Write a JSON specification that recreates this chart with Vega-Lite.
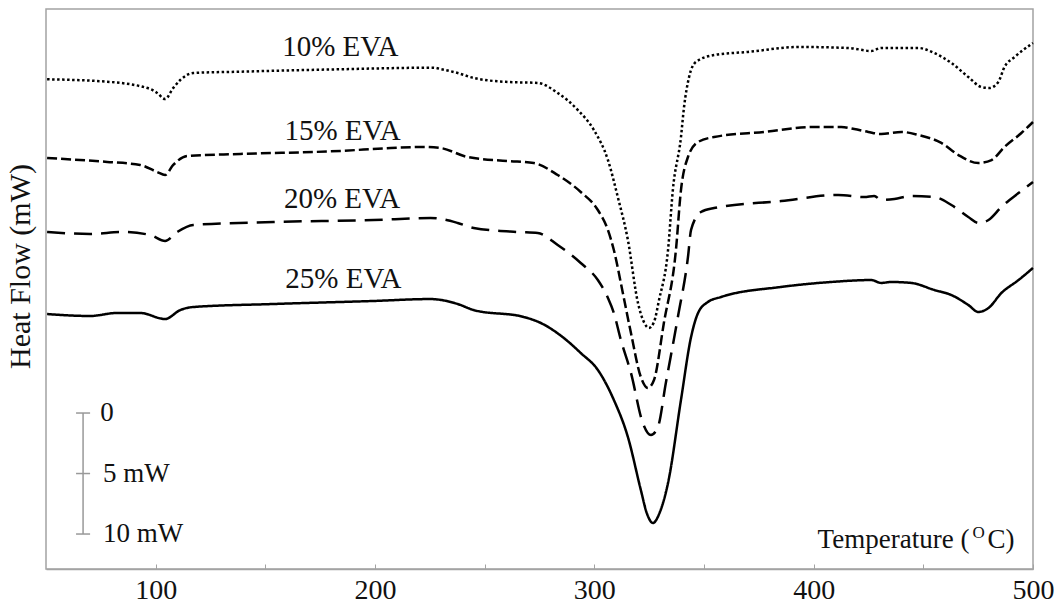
{
  "$schema": "https://vega.github.io/schema/vega-lite/v6.json",
  "width": 987,
  "height": 560,
  "autosize": {"type": "none"},
  "padding": {"left": 46, "top": 9, "right": 21, "bottom": 37},
  "background": "white",
  "config": {
    "font": "Liberation Serif",
    "view": {"stroke": "#a3a3a3", "strokeWidth": 1.5},
    "text": {"font": "Liberation Serif", "color": "#111111"}
  },
  "datasets": {
    "curves": [
      {"s": "10% EVA", "t": 50.5, "v": 40.47},
      {"s": "10% EVA", "t": 77.9, "v": 40.27},
      {"s": "10% EVA", "t": 97.5, "v": 39.67},
      {"s": "10% EVA", "t": 100.7, "v": 39.34},
      {"s": "10% EVA", "t": 104.3, "v": 38.84},
      {"s": "10% EVA", "t": 108.0, "v": 39.75},
      {"s": "10% EVA", "t": 111.2, "v": 40.41},
      {"s": "10% EVA", "t": 117.1, "v": 40.99},
      {"s": "10% EVA", "t": 138.6, "v": 41.10},
      {"s": "10% EVA", "t": 184.2, "v": 41.30},
      {"s": "10% EVA", "t": 226.7, "v": 41.43},
      {"s": "10% EVA", "t": 229.9, "v": 41.32},
      {"s": "10% EVA", "t": 237.7, "v": 40.99},
      {"s": "10% EVA", "t": 245.0, "v": 40.58},
      {"s": "10% EVA", "t": 260.5, "v": 40.25},
      {"s": "10% EVA", "t": 274.2, "v": 40.17},
      {"s": "10% EVA", "t": 283.3, "v": 39.34},
      {"s": "10% EVA", "t": 292.5, "v": 37.93},
      {"s": "10% EVA", "t": 299.8, "v": 36.28},
      {"s": "10% EVA", "t": 306.2, "v": 33.80},
      {"s": "10% EVA", "t": 310.7, "v": 30.74},
      {"s": "10% EVA", "t": 315.3, "v": 27.19},
      {"s": "10% EVA", "t": 319.9, "v": 21.98},
      {"s": "10% EVA", "t": 322.6, "v": 20.41},
      {"s": "10% EVA", "t": 324.9, "v": 19.92},
      {"s": "10% EVA", "t": 327.2, "v": 20.41},
      {"s": "10% EVA", "t": 329.5, "v": 22.23},
      {"s": "10% EVA", "t": 333.6, "v": 26.36},
      {"s": "10% EVA", "t": 335.8, "v": 31.32},
      {"s": "10% EVA", "t": 339.5, "v": 35.70},
      {"s": "10% EVA", "t": 340.9, "v": 38.18},
      {"s": "10% EVA", "t": 343.2, "v": 40.66},
      {"s": "10% EVA", "t": 346.3, "v": 41.90},
      {"s": "10% EVA", "t": 354.6, "v": 42.48},
      {"s": "10% EVA", "t": 370.1, "v": 42.73},
      {"s": "10% EVA", "t": 392.9, "v": 43.14},
      {"s": "10% EVA", "t": 415.8, "v": 43.06},
      {"s": "10% EVA", "t": 426.3, "v": 42.81},
      {"s": "10% EVA", "t": 430.8, "v": 43.06},
      {"s": "10% EVA", "t": 440.0, "v": 43.06},
      {"s": "10% EVA", "t": 447.7, "v": 43.06},
      {"s": "10% EVA", "t": 455.0, "v": 42.64},
      {"s": "10% EVA", "t": 462.8, "v": 41.82},
      {"s": "10% EVA", "t": 470.5, "v": 40.66},
      {"s": "10% EVA", "t": 476.5, "v": 39.83},
      {"s": "10% EVA", "t": 480.1, "v": 39.75},
      {"s": "10% EVA", "t": 484.2, "v": 40.25},
      {"s": "10% EVA", "t": 487.0, "v": 41.49},
      {"s": "10% EVA", "t": 491.6, "v": 42.31},
      {"s": "10% EVA", "t": 500.0, "v": 43.47},

      {"s": "15% EVA", "t": 50.5, "v": 33.97},
      {"s": "15% EVA", "t": 77.9, "v": 33.64},
      {"s": "15% EVA", "t": 92.9, "v": 33.39},
      {"s": "15% EVA", "t": 100.7, "v": 32.81},
      {"s": "15% EVA", "t": 104.3, "v": 32.56},
      {"s": "15% EVA", "t": 108.0, "v": 33.39},
      {"s": "15% EVA", "t": 114.4, "v": 34.13},
      {"s": "15% EVA", "t": 138.6, "v": 34.30},
      {"s": "15% EVA", "t": 184.2, "v": 34.55},
      {"s": "15% EVA", "t": 207.1, "v": 34.79},
      {"s": "15% EVA", "t": 222.1, "v": 34.88},
      {"s": "15% EVA", "t": 229.9, "v": 34.79},
      {"s": "15% EVA", "t": 242.2, "v": 34.05},
      {"s": "15% EVA", "t": 260.5, "v": 33.72},
      {"s": "15% EVA", "t": 272.4, "v": 33.55},
      {"s": "15% EVA", "t": 283.3, "v": 32.56},
      {"s": "15% EVA", "t": 293.8, "v": 31.16},
      {"s": "15% EVA", "t": 301.6, "v": 29.67},
      {"s": "15% EVA", "t": 306.2, "v": 28.02},
      {"s": "15% EVA", "t": 308.9, "v": 26.36},
      {"s": "15% EVA", "t": 313.0, "v": 22.81},
      {"s": "15% EVA", "t": 316.7, "v": 19.50},
      {"s": "15% EVA", "t": 321.2, "v": 15.87},
      {"s": "15% EVA", "t": 324.4, "v": 14.96},
      {"s": "15% EVA", "t": 327.2, "v": 15.62},
      {"s": "15% EVA", "t": 331.7, "v": 20.33},
      {"s": "15% EVA", "t": 337.2, "v": 26.36},
      {"s": "15% EVA", "t": 339.5, "v": 31.32},
      {"s": "15% EVA", "t": 342.7, "v": 34.05},
      {"s": "15% EVA", "t": 347.3, "v": 35.29},
      {"s": "15% EVA", "t": 354.6, "v": 35.70},
      {"s": "15% EVA", "t": 377.4, "v": 36.12},
      {"s": "15% EVA", "t": 400.2, "v": 36.53},
      {"s": "15% EVA", "t": 412.6, "v": 36.53},
      {"s": "15% EVA", "t": 418.5, "v": 36.36},
      {"s": "15% EVA", "t": 424.9, "v": 36.12},
      {"s": "15% EVA", "t": 430.8, "v": 35.95},
      {"s": "15% EVA", "t": 440.0, "v": 36.12},
      {"s": "15% EVA", "t": 447.7, "v": 35.87},
      {"s": "15% EVA", "t": 458.2, "v": 35.21},
      {"s": "15% EVA", "t": 466.0, "v": 34.21},
      {"s": "15% EVA", "t": 475.1, "v": 33.55},
      {"s": "15% EVA", "t": 481.1, "v": 33.80},
      {"s": "15% EVA", "t": 487.0, "v": 34.88},
      {"s": "15% EVA", "t": 494.7, "v": 36.03},
      {"s": "15% EVA", "t": 500.0, "v": 36.94},

      {"s": "20% EVA", "t": 50.5, "v": 27.85},
      {"s": "20% EVA", "t": 70.1, "v": 27.69},
      {"s": "20% EVA", "t": 85.2, "v": 27.85},
      {"s": "20% EVA", "t": 97.5, "v": 27.60},
      {"s": "20% EVA", "t": 104.3, "v": 27.11},
      {"s": "20% EVA", "t": 109.8, "v": 27.85},
      {"s": "20% EVA", "t": 117.1, "v": 28.43},
      {"s": "20% EVA", "t": 153.7, "v": 28.68},
      {"s": "20% EVA", "t": 199.3, "v": 28.84},
      {"s": "20% EVA", "t": 225.3, "v": 29.01},
      {"s": "20% EVA", "t": 237.7, "v": 28.60},
      {"s": "20% EVA", "t": 245.0, "v": 28.18},
      {"s": "20% EVA", "t": 265.1, "v": 27.85},
      {"s": "20% EVA", "t": 274.2, "v": 27.77},
      {"s": "20% EVA", "t": 283.3, "v": 26.78},
      {"s": "20% EVA", "t": 293.8, "v": 25.29},
      {"s": "20% EVA", "t": 301.6, "v": 23.88},
      {"s": "20% EVA", "t": 306.2, "v": 22.40},
      {"s": "20% EVA", "t": 308.9, "v": 21.16},
      {"s": "20% EVA", "t": 312.1, "v": 18.93},
      {"s": "20% EVA", "t": 316.7, "v": 16.20},
      {"s": "20% EVA", "t": 322.1, "v": 12.07},
      {"s": "20% EVA", "t": 325.8, "v": 11.07},
      {"s": "20% EVA", "t": 329.0, "v": 11.74},
      {"s": "20% EVA", "t": 332.6, "v": 15.37},
      {"s": "20% EVA", "t": 338.1, "v": 20.83},
      {"s": "20% EVA", "t": 342.7, "v": 25.79},
      {"s": "20% EVA", "t": 344.1, "v": 28.02},
      {"s": "20% EVA", "t": 348.6, "v": 29.50},
      {"s": "20% EVA", "t": 354.6, "v": 29.83},
      {"s": "20% EVA", "t": 385.2, "v": 30.41},
      {"s": "20% EVA", "t": 411.2, "v": 30.91},
      {"s": "20% EVA", "t": 423.1, "v": 30.74},
      {"s": "20% EVA", "t": 427.6, "v": 30.83},
      {"s": "20% EVA", "t": 430.8, "v": 30.50},
      {"s": "20% EVA", "t": 436.8, "v": 30.58},
      {"s": "20% EVA", "t": 444.5, "v": 30.83},
      {"s": "20% EVA", "t": 455.0, "v": 30.74},
      {"s": "20% EVA", "t": 462.8, "v": 30.08},
      {"s": "20% EVA", "t": 470.5, "v": 29.09},
      {"s": "20% EVA", "t": 475.1, "v": 28.60},
      {"s": "20% EVA", "t": 479.7, "v": 28.84},
      {"s": "20% EVA", "t": 485.6, "v": 29.92},
      {"s": "20% EVA", "t": 493.4, "v": 31.07},
      {"s": "20% EVA", "t": 500.0, "v": 31.98},

      {"s": "25% EVA", "t": 50.5, "v": 21.07},
      {"s": "25% EVA", "t": 70.1, "v": 20.91},
      {"s": "25% EVA", "t": 82.4, "v": 21.16},
      {"s": "25% EVA", "t": 92.9, "v": 21.16},
      {"s": "25% EVA", "t": 104.3, "v": 20.66},
      {"s": "25% EVA", "t": 111.2, "v": 21.40},
      {"s": "25% EVA", "t": 117.1, "v": 21.65},
      {"s": "25% EVA", "t": 153.7, "v": 21.90},
      {"s": "25% EVA", "t": 199.3, "v": 22.15},
      {"s": "25% EVA", "t": 225.3, "v": 22.31},
      {"s": "25% EVA", "t": 237.7, "v": 21.90},
      {"s": "25% EVA", "t": 245.0, "v": 21.40},
      {"s": "25% EVA", "t": 267.8, "v": 20.83},
      {"s": "25% EVA", "t": 275.6, "v": 20.33},
      {"s": "25% EVA", "t": 286.1, "v": 19.09},
      {"s": "25% EVA", "t": 293.8, "v": 17.85},
      {"s": "25% EVA", "t": 301.6, "v": 16.45},
      {"s": "25% EVA", "t": 308.9, "v": 13.97},
      {"s": "25% EVA", "t": 315.3, "v": 10.91},
      {"s": "25% EVA", "t": 321.2, "v": 6.53},
      {"s": "25% EVA", "t": 323.9, "v": 4.63},
      {"s": "25% EVA", "t": 326.7, "v": 3.80},
      {"s": "25% EVA", "t": 329.9, "v": 4.71},
      {"s": "25% EVA", "t": 333.6, "v": 7.11},
      {"s": "25% EVA", "t": 339.5, "v": 13.97},
      {"s": "25% EVA", "t": 344.1, "v": 19.17},
      {"s": "25% EVA", "t": 347.3, "v": 21.16},
      {"s": "25% EVA", "t": 351.8, "v": 22.07},
      {"s": "25% EVA", "t": 357.8, "v": 22.48},
      {"s": "25% EVA", "t": 385.2, "v": 23.31},
      {"s": "25% EVA", "t": 408.0, "v": 23.72},
      {"s": "25% EVA", "t": 426.3, "v": 23.88},
      {"s": "25% EVA", "t": 430.8, "v": 23.64},
      {"s": "25% EVA", "t": 435.4, "v": 23.72},
      {"s": "25% EVA", "t": 444.5, "v": 23.64},
      {"s": "25% EVA", "t": 455.0, "v": 23.06},
      {"s": "25% EVA", "t": 462.8, "v": 22.64},
      {"s": "25% EVA", "t": 470.5, "v": 21.82},
      {"s": "25% EVA", "t": 475.1, "v": 21.24},
      {"s": "25% EVA", "t": 479.7, "v": 21.57},
      {"s": "25% EVA", "t": 485.6, "v": 22.81},
      {"s": "25% EVA", "t": 493.4, "v": 23.88},
      {"s": "25% EVA", "t": 500.0, "v": 24.88}
    ],
    "labels": [
      {"label": "10% EVA", "t": 184.2, "v": 42.40},
      {"label": "15% EVA", "t": 185.2, "v": 35.45},
      {"label": "20% EVA", "t": 185.0, "v": 29.83},
      {"label": "25% EVA", "t": 185.6, "v": 23.22}
    ],
    "bar": [
      {"t": 66.9, "v": 12.89, "v2": 2.89}
    ],
    "barticks": [
      {"t": 63.7, "t2": 70.1, "v": 12.89},
      {"t": 63.7, "t2": 70.1, "v": 7.89},
      {"t": 63.7, "t2": 70.1, "v": 2.89}
    ],
    "barlabels": [
      {"label": "0", "t": 74.7, "v": 12.89},
      {"label": "5 mW", "t": 76.0, "v": 7.89},
      {"label": "10 mW", "t": 76.0, "v": 2.89}
    ],
    "xtitle": [
      {"part": "main", "label": "Temperature (", "t": 471.0, "v": 1.74},
      {"part": "sup", "label": "O", "t": 472.4, "v": 2.56},
      {"part": "end", "label": "C)", "t": 479.2, "v": 1.74}
    ]
  },
  "encoding": {
    "x": {
      "field": "t", "type": "quantitative",
      "scale": {"domain": [50, 500], "nice": false, "zero": false},
      "axis": {
        "title": null,
        "values": [100, 150, 200, 250, 300, 350, 400, 450, 500],
        "labelExpr": "datum.value % 100 === 0 ? datum.label : ''",
        "grid": false,
        "domainColor": "#a3a3a3",
        "domainWidth": 1.5,
        "tickColor": "#a3a3a3",
        "tickSize": -5,
        "labelFont": "Liberation Serif",
        "labelFontSize": 28,
        "labelColor": "#111111",
        "labelPadding": 12,
        "labelFlush": false,
        "labelOverlap": false
      }
    },
    "y": {
      "field": "v", "type": "quantitative",
      "scale": {"domain": [0, 46.28], "nice": false, "zero": false},
      "axis": {
        "title": "Heat Flow (mW)",
        "titleFont": "Liberation Serif",
        "titleFontSize": 30,
        "titleFontWeight": "normal",
        "titleColor": "#111111",
        "titleX": -26,
        "titleY": 257,
        "titleAlign": "center",
        "titleBaseline": "middle",
        "labels": false,
        "ticks": false,
        "domain": false,
        "grid": false
      }
    }
  },
  "layer": [
    {
      "data": {"name": "curves"},
      "mark": {"type": "line", "color": "#000000", "strokeWidth": 2.5, "interpolate": "monotone", "strokeCap": "butt"},
      "encoding": {
        "strokeDash": {
          "field": "s", "type": "nominal",
          "scale": {
            "domain": ["10% EVA", "15% EVA", "20% EVA", "25% EVA"],
            "range": [[2.5, 2.5], [10, 4], [18, 9], [1, 0]]
          },
          "legend": null
        }
      }
    },
    {
      "data": {"name": "labels"},
      "mark": {"type": "text", "fontSize": 29, "align": "center", "baseline": "alphabetic"},
      "encoding": {"text": {"field": "label"}}
    },
    {
      "data": {"name": "bar"},
      "mark": {"type": "rule", "color": "#999999", "strokeWidth": 1.5},
      "encoding": {"y2": {"field": "v2"}}
    },
    {
      "data": {"name": "barticks"},
      "mark": {"type": "rule", "color": "#999999", "strokeWidth": 1.5},
      "encoding": {"x2": {"field": "t2"}}
    },
    {
      "data": {"name": "barlabels"},
      "mark": {"type": "text", "fontSize": 27, "align": "left", "baseline": "middle"},
      "encoding": {"text": {"field": "label"}}
    },
    {
      "data": {"name": "xtitle"},
      "transform": [{"filter": "datum.part === 'main'"}],
      "mark": {"type": "text", "fontSize": 27, "align": "right", "baseline": "alphabetic"},
      "encoding": {"text": {"field": "label"}}
    },
    {
      "data": {"name": "xtitle"},
      "transform": [{"filter": "datum.part === 'sup'"}],
      "mark": {"type": "text", "fontSize": 17, "align": "left", "baseline": "alphabetic"},
      "encoding": {"text": {"field": "label"}}
    },
    {
      "data": {"name": "xtitle"},
      "transform": [{"filter": "datum.part === 'end'"}],
      "mark": {"type": "text", "fontSize": 27, "align": "left", "baseline": "alphabetic"},
      "encoding": {"text": {"field": "label"}}
    }
  ]
}
